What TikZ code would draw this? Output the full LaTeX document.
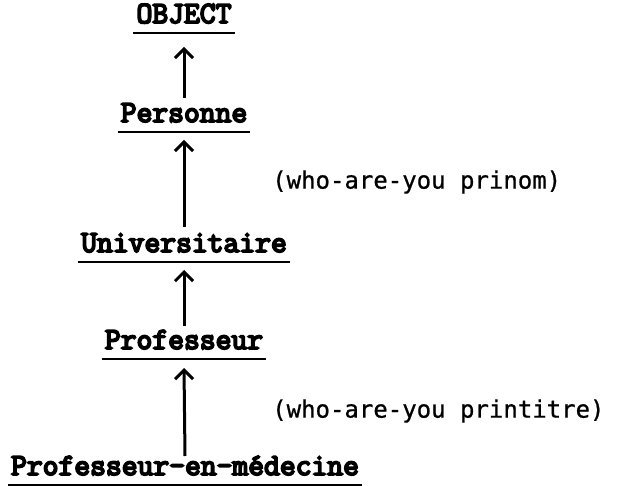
\documentclass[tikz,border=0pt]{standalone}
\usepackage{fontspec}
\newfontfamily\namefont{Latin Modern Mono}[FakeBold=6]
\newfontfamily\labelfont{DejaVu Sans Mono}[FakeBold=0.8]
\usetikzlibrary{arrows.meta}
\begin{document}
\begin{tikzpicture}[x=1pt,y=-1pt,
  cls/.style={anchor=base, inner sep=0pt,
    font=\namefont\fontsize{30.7}{33}\selectfont},
  lbl/.style={anchor=west, inner sep=0pt,
    font=\labelfont\fontsize{24}{27}\selectfont},
  uline/.style={line width=2.8pt},
  arr/.style={line width=3pt,
    -{Straight Barb[length=9pt,width=18pt,line width=3pt]}}]
\useasboundingbox (0,0) rectangle (640,486);

% class names, each on its own baseline
\node[cls] (obj)  at (184,23)  {OBJECT};
\node[cls] (pers) at (184,122) {Personne};
\node[cls] (univ) at (184,252) {Universitaire};
\node[cls] (prof) at (184,349) {Professeur};
\node[cls] (med)  at (185,475) {Professeur-en-médecine};

% underlines
\foreach \n in {obj,pers,univ,prof,med}
  \draw[uline] ([xshift=-3pt,yshift=-10pt]\n.base west) -- ([xshift=3pt,yshift=-10pt]\n.base east);

% inheritance arrows
\draw[arr] ([yshift=24pt]pers.base) -- ([yshift=-24pt]obj.base);
\draw[arr] ([yshift=25pt]univ.base) -- ([yshift=-18pt]pers.base);
\draw[arr] ([yshift=23pt]prof.base) -- ([yshift=-18pt]univ.base);
\draw[arr] ([yshift=19pt]med.base) -- ([yshift=-19pt]prof.base);

% method annotations
\node[lbl] (m1) at (272,182) {(who-are-you prinom)};
\node[lbl] (m2) at (272,411) {(who-are-you printitre)};
\end{tikzpicture}
\end{document}
